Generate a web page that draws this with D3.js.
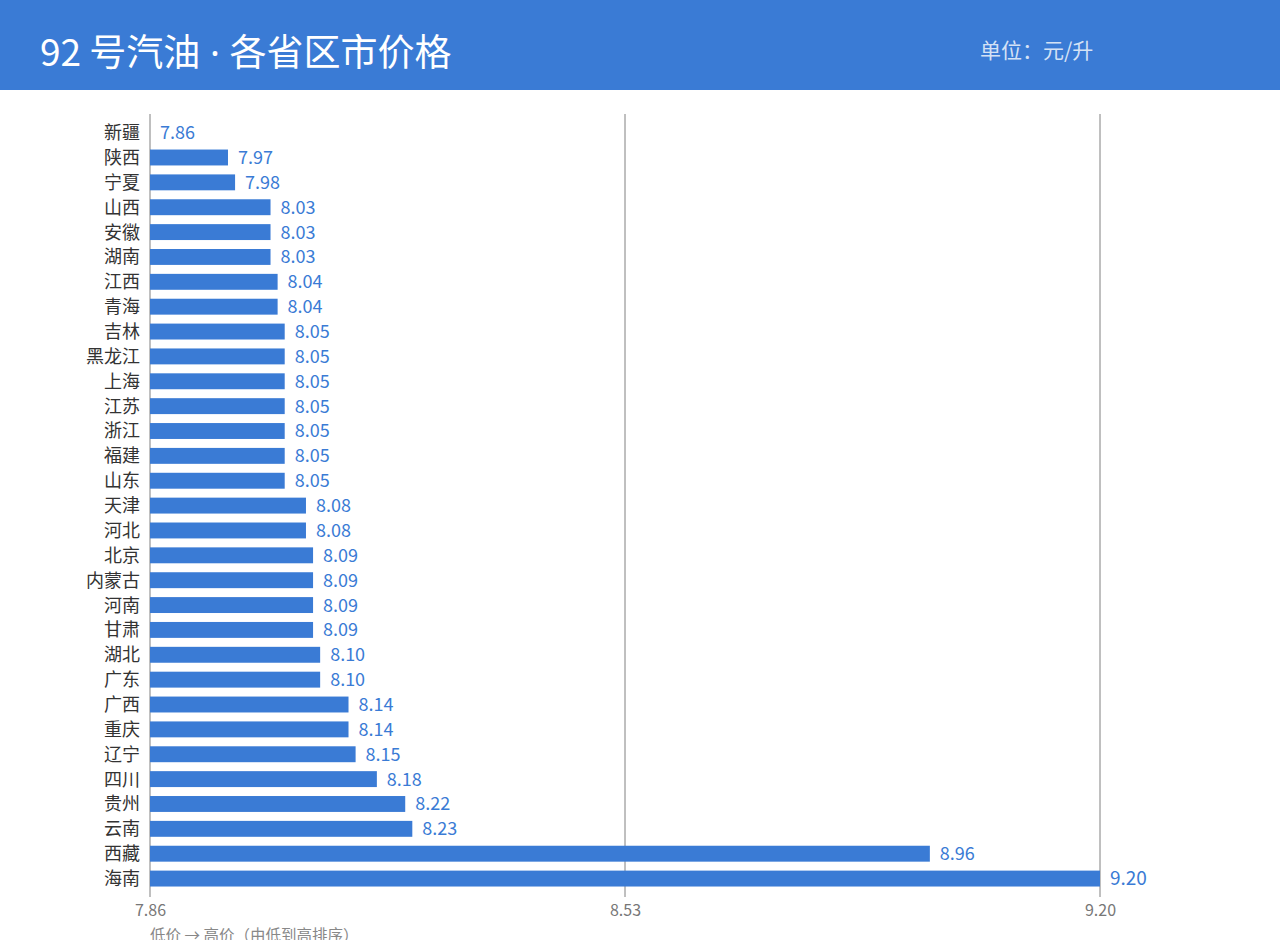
<!DOCTYPE html>
<html><head><meta charset="utf-8">
<script src="https://cdn.jsdelivr.net/npm/d3@7/dist/d3.min.js"></script>
<style>
html,body{margin:0;padding:0;background:#fff;}
svg{display:block;font-family:"Noto Sans CJK SC","Noto Sans",sans-serif;}
</style></head><body>
<svg id="c" width="1280" height="940"></svg>
<script>
const provinces = ["新疆","陕西","宁夏","山西","安徽","湖南","江西","青海","吉林","黑龙江","上海","江苏","浙江","福建","山东","天津","河北","北京","内蒙古","河南","甘肃","湖北","广东","广西","重庆","辽宁","四川","贵州","云南","西藏","海南"];
const prices = [7.86,7.97,7.98,8.03,8.03,8.03,8.04,8.04,8.05,8.05,8.05,8.05,8.05,8.05,8.05,8.08,8.08,8.09,8.09,8.09,8.09,8.10,8.10,8.14,8.14,8.15,8.18,8.22,8.23,8.96,9.20];
const tickValues = [7.86,8.53,9.20];
const titleParts = ["92 号汽油", " · ", "各省区市价格"];
const unitText = "单位：元/升";
const noteText = "低价 → 高价（由低到高排序）";

const svg = d3.select("#c");
const blue = "#3a7bd5";

svg.append("rect").attr("x",0).attr("y",0).attr("width",1280).attr("height",90).attr("fill",blue);
const title = svg.append("text").attr("x",40).attr("y",66).attr("fill","#fff").attr("font-size",37);
title.append("tspan").text(titleParts[0]);
title.append("tspan").attr("font-family","'Noto Sans',sans-serif").text(titleParts[1]);
title.append("tspan").text(titleParts[2]);
svg.append("text").attr("x",980).attr("y",58).attr("fill","rgba(255,255,255,0.8)").attr("font-size",21).text(unitText);

const x = d3.scaleLinear().domain([7.86,9.20]).range([150,1100]);
const y = d3.scaleBand().domain(provinces).range([120.2,891]).paddingInner(0.36).paddingOuter(0.18);

svg.append("g").selectAll("line").data(tickValues).join("line")
  .attr("x1",d=>x(d)).attr("x2",d=>x(d)).attr("y1",114).attr("y2",897)
  .attr("stroke","#808080").attr("stroke-width",1);

const data = provinces.map((p,i)=>({p,v:prices[i]}));
svg.append("g").selectAll("rect").data(data).join("rect")
  .attr("x",x(7.86)).attr("y",d=>y(d.p)).attr("width",d=>x(d.v)-x(7.86)).attr("height",y.bandwidth())
  .attr("fill",blue);

svg.append("g").selectAll("text").data(data).join("text")
  .attr("x",d=>x(d.v)+10).attr("y",d=>y(d.p)+y.bandwidth()/2).attr("dy","0.36em")
  .attr("fill",blue).attr("font-size",d=>d.v===9.20?19:18).text(d=>d.v.toFixed(2));

svg.append("g").selectAll("text").data(data).join("text")
  .attr("x",140).attr("y",d=>y(d.p)+y.bandwidth()/2).attr("dy","0.36em").attr("text-anchor","end")
  .attr("fill","#333").attr("font-size",18).text(d=>d.p);

const axis = d3.axisBottom(x).tickValues(tickValues).tickFormat(d3.format(".2f")).tickSize(0).tickPadding(5);
const ag = svg.append("g").attr("transform","translate(0,900)").call(axis);
ag.select(".domain").remove();
ag.attr("font-size",null).attr("font-family",null);
ag.selectAll("text").attr("fill","#777").style("font-size","16px").style("font-family","'Noto Sans CJK SC','Noto Sans',sans-serif");

svg.append("text").attr("x",150).attr("y",941).attr("fill","#888").attr("font-size",15.5).text(noteText);
</script>
</body></html>
